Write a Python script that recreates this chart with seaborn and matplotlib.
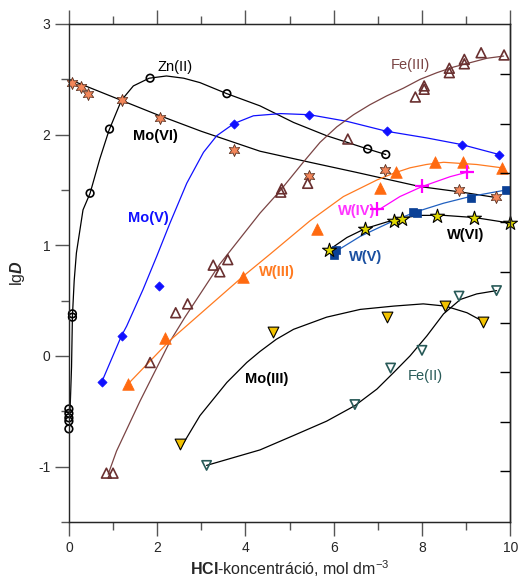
import matplotlib
matplotlib.use('Agg')
import matplotlib.pyplot as plt
import seaborn as sns

# Zn(II)
zn_x = [0, 0, 0, 0, 0, 0.08, 0.08, 0.48, 0.92, 1.84, 3.58, 6.77, 7.18]
zn_y = [-0.48, -0.52, -0.56, -0.59, -0.66, 0.35, 0.38, 1.47, 2.05, 2.51, 2.37, 1.87, 1.82]
zn_fit_x = [0, 0.03, 0.06, 0.08, 0.12, 0.17, 0.32, 0.48, 0.70, 0.91, 1.19, 1.46, 1.82, 2.21, 2.6, 2.97, 3.58, 4.33,
            5.09, 5.84, 6.77, 7.18]
zn_fit_y = [-0.66, -0.45, -0.1, 0.36, 0.68, 0.93, 1.32, 1.47, 1.78, 2.04, 2.31, 2.44, 2.51, 2.53, 2.51, 2.47, 2.37,
            2.26, 2.11, 1.99, 1.87, 1.82]

# Mo(VI)
mo6_x = [0.08, 0.27, 0.43, 1.2, 2.06, 3.75, 5.44, 7.17, 8.84, 9.68]
mo6_y = [2.47, 2.43, 2.37, 2.31, 2.15, 1.86, 1.63, 1.68, 1.50, 1.44]
mo6_fit_x = [0, 1, 2, 3, 4.33, 5.46, 6.5, 7.96, 8.9, 9.7]
mo6_fit_y = [2.50, 2.34, 2.18, 2.03, 1.85, 1.75, 1.66, 1.53, 1.48, 1.43]

# Mo(V)
mo5_x = [0.75, 1.21, 2.04, 3.74, 5.45, 7.2, 8.9, 9.75]
mo5_y = [-0.24, 0.18, 0.63, 2.10, 2.18, 2.03, 1.91, 1.82]
mo5_fit_x = [0.74, 1.19, 1.31, 1.68, 1.99, 2.29, 2.67, 3.05, 3.35, 3.74, 4.18, 4.8, 5.45, 6.3, 7.2, 8.11, 8.9,
             9.75]
mo5_fit_y = [-0.24, 0.18, 0.27, 0.60, 0.90, 1.20, 1.56, 1.84, 1.99, 2.10, 2.17, 2.19, 2.18, 2.12, 2.03, 1.97, 1.91,
             1.82]

# Fe(III)
fe3_x = [0.85, 1.0, 1.84, 2.42, 2.69, 3.27, 3.42, 3.60, 4.8, 4.82, 5.41, 6.32, 7.85, 8.05, 8.05, 8.62, 8.62,
         8.96, 8.96, 9.34, 9.86]
fe3_y = [-1.06, -1.06, -0.06, 0.39, 0.47, 0.82, 0.76, 0.87, 1.48, 1.51, 1.56, 1.96, 2.34, 2.41, 2.44, 2.56, 2.60,
         2.64, 2.68, 2.74, 2.72]
fe3_fit_x = [0.89, 1.08, 1.61, 2.29, 2.63, 3.42, 4.33, 4.78, 5.31, 5.69, 6.07, 6.45, 6.82, 7.2, 7.58, 7.96, 8.34,
             8.71, 9.09, 9.47, 9.85]
fe3_fit_y = [-1.07, -0.86, -0.41, 0.13, 0.35, 0.83, 1.29, 1.49, 1.75, 1.93, 2.07, 2.18, 2.27, 2.35, 2.42, 2.50,
             2.56, 2.61, 2.65, 2.69, 2.71]

# W(III)
w3_x = [1.35, 2.18, 3.95, 5.62, 7.05, 7.41, 8.30, 8.94, 9.81]
w3_y = [-0.25, 0.16, 0.71, 1.15, 1.52, 1.66, 1.75, 1.75, 1.70]
w3_fit_x = [1.35, 2.29, 3.95, 4.56, 5.46, 6.22, 6.98, 7.35, 7.73, 8.1, 8.49, 9.24, 9.81]
w3_fit_y = [-0.25, 0.14, 0.72, 0.92, 1.22, 1.44, 1.59, 1.65, 1.70, 1.73, 1.75, 1.73, 1.70]

# W(IV)
w4_x = [6.99, 8.0, 9.01]
w4_y = [1.33, 1.54, 1.66]
w4_fit_x = [7.02, 7.5, 8.0, 8.64, 9.02]
w4_fit_y = [1.32, 1.44, 1.53, 1.62, 1.66]

# W(V)
w5_x = [6.01, 6.05, 7.79, 7.88, 9.1, 9.9]
w5_y = [0.91, 0.96, 1.30, 1.29, 1.43, 1.50]
w5_fit_x = [5.99, 6.6, 7.35, 7.85, 8.49, 9.09, 9.91]
w5_fit_y = [0.93, 1.08, 1.22, 1.30, 1.38, 1.44, 1.50]

# W(VI)
w6_x = [5.90, 6.71, 7.37, 7.54, 8.34, 9.19, 10.0]
w6_y = [0.96, 1.15, 1.22, 1.24, 1.26, 1.25, 1.20]
w6_fit_x = [5.9, 6.3, 6.71, 7.2, 7.6, 8.0, 8.5, 9.2, 10.0]
w6_fit_y = [0.96, 1.07, 1.15, 1.21, 1.25, 1.27, 1.27, 1.25, 1.20]

# Mo(III)
mo3_x = [2.52, 4.63, 7.21, 8.53, 9.39]
mo3_y = [-0.80, 0.22, 0.35, 0.45, 0.31]
mo3_fit_x = [2.52, 2.97, 3.58, 4.03, 4.33, 4.7, 5.09, 5.84, 6.6, 7.36, 8.03, 8.53, 9.02, 9.39]
mo3_fit_y = [-0.84, -0.54, -0.24, -0.06, 0.04, 0.15, 0.24, 0.35, 0.42, 0.45, 0.47, 0.45, 0.39, 0.31]

# Fe(II)
fe2_x = [3.12, 6.48, 7.29, 8.0, 8.84, 9.69]
fe2_y = [-0.99, -0.44, -0.11, 0.05, 0.54, 0.59]
fe2_fit_x = [3.12, 4.33, 5.09, 5.84, 6.48, 6.98, 7.36, 7.73, 8.11, 8.49, 8.87, 9.24, 9.69]
fe2_fit_y = [-0.99, -0.85, -0.72, -0.59, -0.45, -0.30, -0.15, 0.0, 0.18, 0.38, 0.51, 0.56, 0.59]

RIGHT_TICKS = [2.545, 2.10, 1.655, 1.21, 0.755, 0.30, -0.144, -0.598, -1.045]

BROWN = '#7a4444'
ORANGE = '#ff6a10'
TEAL = '#285a58'


def main():
    sns.set_style('ticks')
    plt.rcParams['font.family'] = ['Liberation Sans', 'DejaVu Sans']
    plt.rcParams['mathtext.fontset'] = 'custom'
    plt.rcParams['mathtext.rm'] = 'Liberation Sans'
    plt.rcParams['mathtext.it'] = 'Liberation Sans:italic'
    plt.rcParams['mathtext.bf'] = 'Liberation Sans:bold'
    plt.rcParams['mathtext.bfit'] = 'Liberation Sans:bold:italic'

    fig = plt.figure(figsize=(5.18, 5.85), dpi=100)
    ax = fig.add_axes([0.133, 0.108, 0.852, 0.851])

    lines = [
        (zn_fit_x, zn_fit_y, 'black'),
        (mo6_fit_x, mo6_fit_y, 'black'),
        (mo5_fit_x, mo5_fit_y, '#1010ff'),
        (fe3_fit_x, fe3_fit_y, BROWN),
        (w3_fit_x, w3_fit_y, '#ff7a20'),
        (w4_fit_x, w4_fit_y, '#ff00ff'),
        (w5_fit_x, w5_fit_y, '#2060c0'),
        (w6_fit_x, w6_fit_y, 'black'),
        (mo3_fit_x, mo3_fit_y, 'black'),
        (fe2_fit_x, fe2_fit_y, 'black'),
    ]
    for lx, ly, c in lines:
        sns.lineplot(x=lx, y=ly, sort=False, estimator=None, color=c, lw=0.9, ax=ax)

    # markers
    kw = dict(ax=ax, zorder=5, clip_on=False)
    sns.scatterplot(x=zn_x, y=zn_y, marker='o', s=30, facecolor='none', edgecolor='black', linewidth=1.2, **kw)
    sns.scatterplot(x=mo6_x, y=mo6_y, marker=(6, 1, 0), s=75, color='#f4875a', edgecolor='#5a3020',
                    linewidth=0.6, **kw)
    sns.scatterplot(x=mo5_x, y=mo5_y, marker='D', s=22, color='#1010ff', edgecolor='#1010ff', linewidth=0.5, **kw)
    sns.scatterplot(x=fe3_x, y=fe3_y, marker='^', s=50, facecolor='none', edgecolor='#6a3030', linewidth=1.2, **kw)
    sns.scatterplot(x=w3_x, y=w3_y, marker='^', s=70, color=ORANGE, edgecolor=ORANGE, linewidth=0.5, **kw)
    sns.scatterplot(x=w4_x, y=w4_y, marker='+', s=110, color='#ff00ff', linewidth=1.6, **kw)
    sns.scatterplot(x=w5_x, y=w5_y, marker='s', s=40, color='#0a4096', edgecolor='#0a4096', linewidth=0.5, **kw)
    sns.scatterplot(x=w6_x, y=w6_y, marker='*', s=110, color='#e0d800', edgecolor='black', linewidth=0.8, **kw)
    sns.scatterplot(x=mo3_x, y=mo3_y, marker='v', s=60, color='#f2c200', edgecolor='black', linewidth=0.8, **kw)
    sns.scatterplot(x=fe2_x, y=fe2_y, marker='v', s=45, facecolor='none', edgecolor=TEAL, linewidth=1.2, **kw)

    # series labels
    fs = 10.5
    ax.text(2.40, 2.61, 'Zn(II)', fontsize=fs, ha='center', va='center', color='black')
    ax.text(1.95, 1.99, 'Mo(VI)', fontsize=fs, ha='center', va='center', color='black', fontweight='bold')
    ax.text(1.79, 1.25, 'Mo(V)', fontsize=fs, ha='center', va='center', color='#1010ff', fontweight='bold')
    ax.text(7.73, 2.63, 'Fe(III)', fontsize=fs, ha='center', va='center', color=BROWN)
    ax.text(4.72, 0.755, 'W(III)', fontsize=fs, ha='center', va='center', color='#ff7a20', fontweight='bold')
    ax.text(6.53, 1.31, 'W(IV)', fontsize=fs, ha='center', va='center', color='#ff33ff', fontweight='bold')
    ax.text(6.73, 0.89, 'W(V)', fontsize=fs, ha='center', va='center', color='#1a4fa0', fontweight='bold')
    ax.text(9.0, 1.09, 'W(VI)', fontsize=fs, ha='center', va='center', color='black', fontweight='bold')
    ax.text(4.49, -0.21, 'Mo(III)', fontsize=fs, ha='center', va='center', color='black', fontweight='bold')
    ax.text(8.07, -0.18, 'Fe(II)', fontsize=fs, ha='center', va='center', color=TEAL)

    ax.set_xlim(0, 10)
    ax.set_ylim(-1.5, 3)
    ax.set_xticks([0, 2, 4, 6, 8, 10])
    ax.set_xticks([1, 3, 5, 7, 9], minor=True)
    ax.set_yticks([-1, 0, 1, 2, 3])
    ax.set_yticklabels(['-1', '0', '1', '2', '3'])
    ax.set_yticks([-1.5, -0.5, 0.5, 1.5, 2.5], minor=True)
    ax.tick_params(which='major', length=10, width=1, color='#555555', labelsize=10, top=True, direction='out')
    ax.tick_params(which='minor', length=5.5, width=1, color='#555555', top=True, direction='out')
    ax.tick_params(axis='y', which='both', right=False)
    for side in ['left', 'bottom', 'top', 'right']:
        ax.spines[side].set_visible(True)
        ax.spines[side].set_linewidth(1.0)
    ax.spines['left'].set_color('#555555')

    ax2 = ax.twinx()
    ax2.set_ylim(-1.5, 3)
    ax2.set_yticks(RIGHT_TICKS)
    ax2.tick_params(axis='y', direction='in', length=7, width=1, labelright=False, color='black')
    ax2.spines['right'].set_linewidth(1.0)

    ax.set_xlabel(r'$\mathbf{HCl}$-koncentráció, mol dm$^{-3}$', fontsize=11.5, labelpad=3)
    ax.set_ylabel(r'lg$\mathbfit{D}$', fontsize=11.5, labelpad=8)

    fig.savefig('out.png', dpi=100)


if __name__ == '__main__':
    main()
